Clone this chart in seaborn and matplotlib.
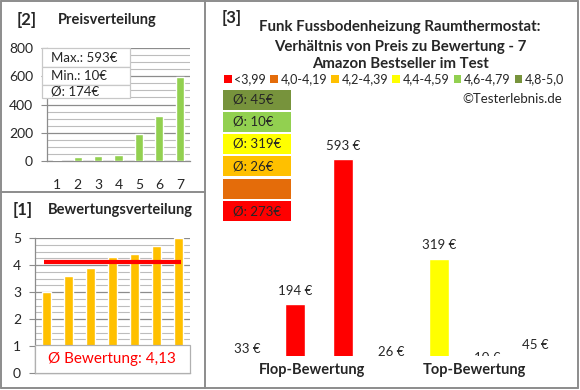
import matplotlib
matplotlib.use("Agg")
import matplotlib.pyplot as plt
from matplotlib.patches import Rectangle, Patch
from matplotlib.lines import Line2D
import numpy as np
import pandas as pd
import seaborn as sns

# ── data ────────────────────────────────────────────────────────────────
prices_sorted = [10, 26, 33, 45, 194, 319, 593]          # panel [2]
ratings_sorted = [3.0, 3.6, 3.9, 4.3, 4.4, 4.7, 5.0]      # panel [1]
# panel [3]: products ordered from flop to top rating
ratio_ratings = [3.0, 3.6, 3.9, 4.3, 4.4, 4.7, 5.0]
ratio_prices = [33, 194, 593, 26, 319, 10, 45]

band_labels = ["<3,99", "4,0-4,19", "4,2-4,39", "4,4-4,59", "4,6-4,79", "4,8-5,0"]
band_edges = [0, 4.0, 4.2, 4.4, 4.6, 4.8, 5.01]
band_colors = ["#FF0000", "#E46C0A", "#FFC000", "#FFFF00", "#92D050", "#77933C"]

W, H = 580, 390
GRID_DARK = "#8c8c8c"
GRID_LIGHT = "#bdbdbd"

sns.set_style("white")
plt.rcParams["font.family"] = ["Lato", "DejaVu Sans"]

fig = plt.figure(figsize=(W / 100, H / 100), dpi=100)


def fx(x):
    return x / W


def fy(y):
    return 1 - y / H


def px_axes(x0, y0, x1, y1):
    return fig.add_axes([fx(x0), fy(y1), (x1 - x0) / W, (y1 - y0) / H])


def px_box(x0, y0, x1, y1, **kw):
    fig.add_artist(Rectangle((fx(x0), fy(y1)), (x1 - x0) / W, (y1 - y0) / H,
                             transform=fig.transFigure, **kw))


def style_grid(ax, major, minor):
    ax.set_yticks(major)
    ax.set_yticks(minor, minor=True)
    ax.grid(axis="y", which="major", color=GRID_DARK, lw=0.9, zorder=0)
    ax.grid(axis="y", which="minor", color=GRID_LIGHT, lw=0.8, zorder=0)
    ax.set_axisbelow(True)
    for s in ["top", "right"]:
        ax.spines[s].set_visible(False)
    for s in ["left", "bottom"]:
        ax.spines[s].set_color(GRID_DARK)
        ax.spines[s].set_linewidth(0.9)
    ax.tick_params(axis="y", which="major", length=4, color=GRID_DARK,
                   labelsize=10, pad=6, left=True)
    ax.tick_params(axis="y", which="minor", length=0)
    ax.set_xlabel("")
    ax.set_ylabel("")


# ── frame lines ─────────────────────────────────────────────────────────
for (x0, y0, x1, y1) in [(1, 1, 578, 1), (1, 388, 578, 388), (1, 1, 1, 388),
                         (578, 1, 578, 388), (205, 1, 205, 388), (1, 192, 205, 192)]:
    fig.add_artist(Line2D([fx(x0), fx(x1)], [fy(y0), fy(y1)],
                          color=GRID_DARK, lw=1.4, transform=fig.transFigure))

# ── panel [2] price distribution ────────────────────────────────────────
ax2 = px_axes(47, 48, 190, 161)
df2 = pd.DataFrame({"pos": [str(i + 1) for i in range(len(prices_sorted))],
                    "price": prices_sorted})
sns.barplot(data=df2, x="pos", y="price", color="#92D050", width=0.4,
            saturation=1, ax=ax2, zorder=3)
ax2.set_ylim(0, 800)
style_grid(ax2, np.arange(0, 801, 200), np.arange(0, 801, 50))
ax2.tick_params(axis="x", length=0, labelsize=10, pad=13)
fig.text(fx(17), fy(20), "[2]", fontsize=12, fontweight="bold", va="center")
fig.text(fx(58), fy(20), "Preisverteilung", fontsize=10.5, fontweight="bold", va="center")

info = [f"Max.: {max(prices_sorted)}€", f"Min.: {min(prices_sorted)}€",
        f"Ø: {round(np.mean(prices_sorted))}€"]
rows = [(48, 67), (67, 85), (85, 98)]
for txt, (r0, r1) in zip(info, rows):
    px_box(42, r0, 130, r1, facecolor="white", edgecolor="#c8c8c8", lw=0.9, zorder=5)
    fig.text(fx(51), fy((r0 + r1) / 2), txt, fontsize=9.5, va="center", zorder=6)

# ── panel [1] rating distribution ───────────────────────────────────────
ax1 = px_axes(35, 238, 190, 373)
df1 = pd.DataFrame({"pos": list(range(len(ratings_sorted))), "rating": ratings_sorted})
sns.barplot(data=df1, x="pos", y="rating", color="#FFC000", width=0.4,
            saturation=1, ax=ax1, zorder=3)
ax1.set_ylim(0, 5)
style_grid(ax1, np.arange(0, 6, 1), np.arange(0, 5.01, 0.25))
ax1.tick_params(axis="x", length=0, labelbottom=False)
avg_rating = np.mean(ratings_sorted)
ax1.hlines(avg_rating, -0.1, len(ratings_sorted) - 0.9, color="#FF0000", lw=3, zorder=4)
px_box(35, 345, 190, 373, facecolor="white", edgecolor="#b0b0b0", lw=0.9, zorder=5)
fig.text(fx(112), fy(359), f"Ø Bewertung: {avg_rating:.2f}".replace(".", ","),
         ha="center", va="center", color="#FF0000", fontsize=11, zorder=6)
fig.text(fx(13), fy(210), "[1]", fontsize=12, fontweight="bold", va="center")
fig.text(fx(48), fy(210), "Bewertungsverteilung", fontsize=10.5, fontweight="bold",
         va="center")

# ── panel [3] price vs rating ───────────────────────────────────────────
band = pd.cut(ratio_ratings, bins=band_edges, labels=band_labels, right=False)
df3 = pd.DataFrame({"pos": list(range(len(ratio_prices))), "price": ratio_prices,
                    "band": band.astype(str)})
ax3 = px_axes(223, 90, 559, 356)
sns.barplot(data=df3, x="pos", y="price", hue="band",
            palette=dict(zip(band_labels, band_colors)), dodge=False,
            width=0.4, saturation=1, legend=False, ax=ax3)
ax3.set_ylim(51, 783)
ax3.set_xlim(-0.5, len(ratio_prices) - 0.5)
ax3.axis("off")
for i, p in enumerate(ratio_prices):
    t = ax3.annotate(f"{p} €", (i, p), xytext=(0, 9.5), textcoords="offset points",
                     ha="center", va="center", fontsize=9.5, annotation_clip=False)
    t.set_clip_on(True)
    t.set_clip_box(ax3.bbox)

fig.text(fx(312), fy(370), "Flop-Bewertung", fontsize=10.5, fontweight="bold",
         ha="center", va="center")
fig.text(fx(474), fy(370), "Top-Bewertung", fontsize=10.5, fontweight="bold",
         ha="center", va="center")

fig.text(fx(222), fy(18), "[3]", fontsize=12, fontweight="bold", va="center")
title = ["Funk Fussbodenheizung Raumthermostat:",
         "Verhältnis von Preis zu Bewertung - 7",
         "Amazon Bestseller im Test"]
for line, y in zip(title, [27, 47, 64]):
    fig.text(fx(400), fy(y), line, fontsize=10.8, fontweight="bold",
             ha="center", va="center")

handles = [Patch(facecolor=c, edgecolor="none") for c in band_colors]
fig.legend(handles, band_labels, loc="center", bbox_to_anchor=(fx(394), fy(79)),
           ncol=6, frameon=False, fontsize=9, handlelength=0.6, handleheight=0.6,
           handletextpad=0.2, columnspacing=0.35, borderpad=0)
fig.text(fx(562), fy(99), "©Testerlebnis.de", fontsize=9.5, ha="right", va="center")

# average price per rating band, top band first
band_means = df3.groupby("band")["price"].mean()
box_rows = [(90, 110), (112, 132), (134, 154), (156, 176), (179, 199), (201, 221)]
for lbl, col, (r0, r1) in zip(band_labels[::-1], band_colors[::-1], box_rows):
    px_box(223, r0, 291, r1, facecolor=col, edgecolor="none")
    if lbl in band_means.index:
        fig.text(fx(233), fy((r0 + r1) / 2), f"Ø: {round(band_means[lbl])}€",
                 fontsize=9.5, va="center")

fig.savefig("out.png", dpi=100)
